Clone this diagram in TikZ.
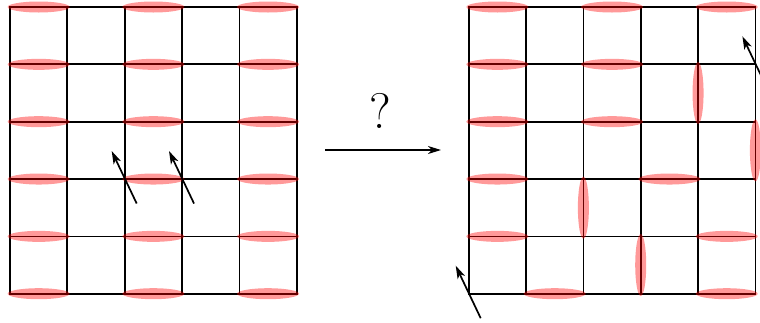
\documentclass[tikz,border=0pt]{standalone}
\usepackage{fontspec}
\usetikzlibrary{arrows.meta,calc}
\begin{document}
\begin{tikzpicture}[x=1pt,y=-1pt,
  gridline/.style={line width=1.7pt, line cap=rect},
  pairfill/.style={fill=red, fill opacity=0.4, draw=none},
  spin/.style={line width=1.7pt, -{Stealth[length=13pt,width=8pt,inset=3.5pt]}},
  maparrow/.style={line width=1.3pt, -{Stealth[length=13pt,width=8pt,inset=4pt]}}]
\useasboundingbox (0,0) rectangle (760,322);
\def\cs{57.34}
\def\ya{7}
\def\xl{10}
\def\xr{468.7}
% grids
\foreach \xo in {\xl,\xr}{
  \foreach \i in {0,...,5}{
    \draw[gridline] ({\xo+\i*\cs},\ya) -- ({\xo+\i*\cs},{\ya+5*\cs});
    \draw[gridline] (\xo,{\ya+\i*\cs}) -- ({\xo+5*\cs},{\ya+\i*\cs});
  }
}
% left pairs (horizontal)
\foreach \r in {0,...,5}{
  \foreach \c in {0,2,4}{
    \fill[pairfill] ({\xl+(\c+0.5)*\cs},{\ya+\r*\cs}) ellipse [x radius=31, y radius=5.5];
  }
}
% right pairs (horizontal)
\foreach \c/\r in {0/0,2/0,4/0,0/1,2/1,0/2,2/2,0/3,3/3,0/4,4/4,1/5,4/5}{
  \fill[pairfill] ({\xr+(\c+0.5)*\cs},{\ya+\r*\cs}) ellipse [x radius=31, y radius=5.5];
}
% right pairs (vertical)
\foreach \i/\r in {4/1,5/2,2/3,3/4}{
  \fill[pairfill] ({\xr+\i*\cs},{\ya+(\r+0.5)*\cs}) ellipse [x radius=5.5, y radius=31];
}
% spin arrows
\coordinate (L1) at ({\xl+2*\cs},{\ya+3*\cs});
\coordinate (L2) at ({\xl+3*\cs},{\ya+3*\cs});
\coordinate (R1) at ({\xr},{\ya+5*\cs});
\coordinate (R2) at ({\xr+5*\cs},{\ya+1*\cs});
\foreach \p in {L1,L2,R1,R2}{
  \draw[spin] ($(\p)+(12,24.5)$) -- ($(\p)+(-13,-28)$);
}
% map arrow
\coordinate (ma) at (325,150);
\coordinate (mb) at (441,150);
\draw[maparrow] (ma) -- (mb);
\node (q) at (380,111) {\fontsize{50}{50}\selectfont ?};
\end{tikzpicture}
\end{document}
